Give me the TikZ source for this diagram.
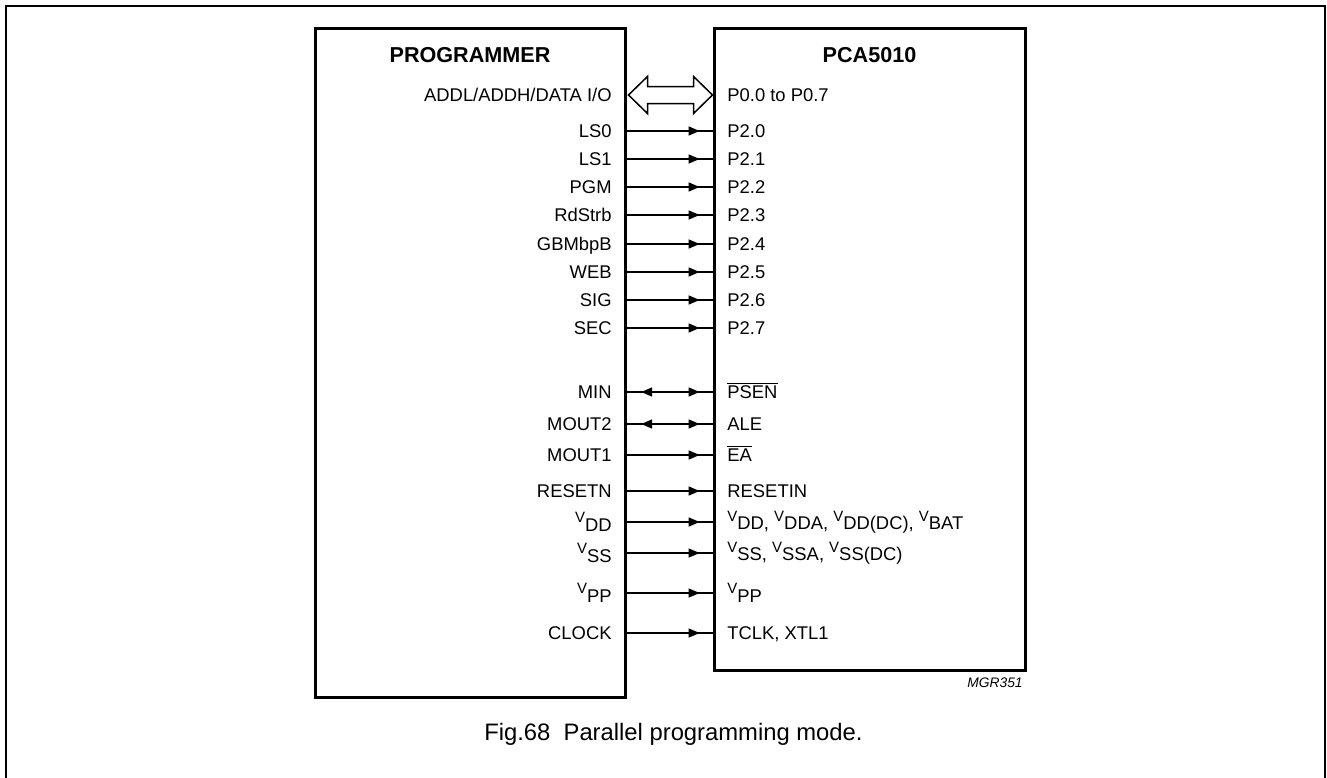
\documentclass[tikz,border=0pt]{standalone}
\usepackage{fontspec}
\setmainfont{Liberation Sans}
\usepackage{tikz}
\usetikzlibrary{
    arrows.meta,
    decorations.markings
}

\newcommand{\vsym}[1]{\raisebox{4.2pt}{\fontsize{7.5pt}{9pt}\selectfont V}#1}

\tikzset{
    box/.style={draw, line width=1.5pt, inner sep=0pt},
    lbl/.style={font=\fontsize{9.2pt}{11pt}\selectfont, inner sep=0pt, text height=6.6pt, text depth=0pt},
    vlbl/.style={font=\fontsize{9.2pt}{11pt}\selectfont, inner sep=0pt},
    sig/.style={line width=0.75pt, postaction={decorate},
        decoration={markings, mark=at position 0.85 with {\arrow{Triangle[length=5.5pt,width=4.5pt]}}}},
    bisig/.style={line width=0.75pt, postaction={decorate},
        decoration={markings,
            mark=at position 0.17 with {\arrowreversed{Triangle[length=5.5pt,width=4.5pt]}},
            mark=at position 0.85 with {\arrow{Triangle[length=5.5pt,width=4.5pt]}}}}
}

\begin{document}
\begin{tikzpicture}[x=0.5pt, y=-0.5pt]

\useasboundingbox (0,0) rectangle (1327,777);

% Frame
\draw[line width=1pt] (6,790) -- (6,6) -- (1325,6) -- (1325,790);

% Boxes
\node[box, minimum width=155pt, minimum height=334.5pt] (prog) at (470,362.5) {};
\node[box, minimum width=155.5pt, minimum height=321pt] (pca) at (869.5,349) {};
\node[font=\bfseries\fontsize{10.8pt}{13pt}\selectfont] (progtitle) at (470,55) {PROGRAMMER};
\node[font=\bfseries\fontsize{10.8pt}{13pt}\selectfont] (pcatitle) at (869.5,55) {PCA5010};

% Data bus (hollow double arrow)
\node[lbl, anchor=east] (addl) at (612,95) {ADDL/ADDH/DATA I/O};
\node[lbl, anchor=west] (p0) at (727,95) {P0.0 to P0.7};
\draw[line width=0.75pt, line join=miter] (prog.east |- addl) ++(2,0) -- ++(19,-18.5) -- ++(0,10)
    -- ++(46,0) -- ++(0,-10) -- ++(19,18.5) -- ++(-19,18.5) -- ++(0,-10)
    -- ++(-46,0) -- ++(0,10) -- cycle;

% Port 2
\node[lbl, anchor=east] (ls0) at (612,131) {LS0};
\node[lbl, anchor=west] (p20) at (727,131) {P2.0};
\draw[sig] (prog.east |- ls0) -- (pca.west |- p20);

\node[lbl, anchor=east] (ls1) at (612,159) {LS1};
\node[lbl, anchor=west] (p21) at (727,159) {P2.1};
\draw[sig] (prog.east |- ls1) -- (pca.west |- p21);

\node[lbl, anchor=east] (pgm) at (612,187) {PGM};
\node[lbl, anchor=west] (p22) at (727,187) {P2.2};
\draw[sig] (prog.east |- pgm) -- (pca.west |- p22);

\node[lbl, anchor=east] (rdstrb) at (612,215) {RdStrb};
\node[lbl, anchor=west] (p23) at (727,215) {P2.3};
\draw[sig] (prog.east |- rdstrb) -- (pca.west |- p23);

\node[lbl, anchor=east] (gbmbpb) at (612,244) {GBMbpB};
\node[lbl, anchor=west] (p24) at (727,244) {P2.4};
\draw[sig] (prog.east |- gbmbpb) -- (pca.west |- p24);

\node[lbl, anchor=east] (web) at (612,272) {WEB};
\node[lbl, anchor=west] (p25) at (727,272) {P2.5};
\draw[sig] (prog.east |- web) -- (pca.west |- p25);

\node[lbl, anchor=east] (sigl) at (612,300) {SIG};
\node[lbl, anchor=west] (p26) at (727,300) {P2.6};
\draw[sig] (prog.east |- sigl) -- (pca.west |- p26);

\node[lbl, anchor=east] (sec) at (612,328) {SEC};
\node[lbl, anchor=west] (p27) at (727,328) {P2.7};
\draw[sig] (prog.east |- sec) -- (pca.west |- p27);

% Control
\node[lbl, anchor=east] (min) at (612,392) {MIN};
\node[lbl, anchor=west] (psen) at (727,392) {$\overline{\mbox{PSEN}}$};
\draw[bisig] (prog.east |- min) -- (pca.west |- psen);

\node[lbl, anchor=east] (mout2) at (612,424) {MOUT2};
\node[lbl, anchor=west] (ale) at (727,424) {ALE};
\draw[bisig] (prog.east |- mout2) -- (pca.west |- ale);

\node[lbl, anchor=east] (mout1) at (612,455) {MOUT1};
\node[lbl, anchor=west] (ea) at (727,455) {$\overline{\mbox{EA}}$};
\draw[sig] (prog.east |- mout1) -- (pca.west |- ea);

\node[lbl, anchor=east] (resetn) at (612,491) {RESETN};
\node[lbl, anchor=west] (resetin) at (727,491) {RESETIN};
\draw[sig] (prog.east |- resetn) -- (pca.west |- resetin);

% Supplies
\node[vlbl, anchor=east] (vdd) at (612,522) {\vsym{DD}};
\node[vlbl, anchor=west] (vddall) at (727,522) {\vsym{DD}, \vsym{DDA}, \vsym{DD(DC)}, \vsym{BAT}};
\draw[sig] (prog.east |- vdd) -- (pca.west |- vddall);

\node[vlbl, anchor=east] (vss) at (612,553) {\vsym{SS}};
\node[vlbl, anchor=west] (vssall) at (727,553) {\vsym{SS}, \vsym{SSA}, \vsym{SS(DC)}};
\draw[sig] (prog.east |- vss) -- (pca.west |- vssall);

\node[vlbl, anchor=east] (vpp) at (612,593) {\vsym{PP}};
\node[vlbl, anchor=west] (vppr) at (727,593) {\vsym{PP}};
\draw[sig] (prog.east |- vpp) -- (pca.west |- vppr);

% Clock
\node[lbl, anchor=east] (clock) at (612,633) {CLOCK};
\node[lbl, anchor=west] (tclk) at (727,633) {TCLK, XTL1};
\draw[sig] (prog.east |- clock) -- (pca.west |- tclk);

% Captions
\node[font=\itshape\fontsize{6.9pt}{8pt}\selectfont, anchor=east, inner sep=0pt] (code) at (1023,683) {MGR351};
\node[font=\fontsize{11.9pt}{14pt}\selectfont, anchor=base east, inner sep=0pt] (caption) at (863,740) {Fig.68\ \ Parallel programming mode.};

\end{tikzpicture}
\end{document}
